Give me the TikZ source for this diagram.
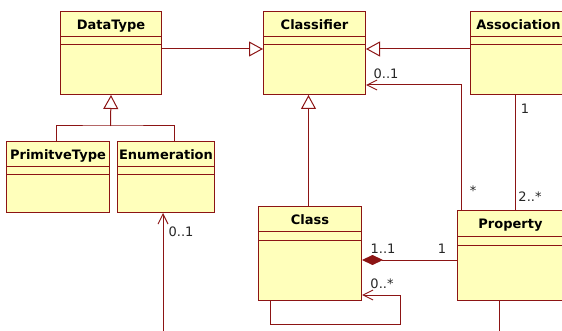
\documentclass[tikz,border=0pt]{standalone}
\usepackage{fontspec}
\setmainfont{DejaVu Sans}
\usetikzlibrary{arrows.meta}
\definecolor{umlfill}{RGB}{255,255,187}
\definecolor{umlline}{RGB}{140,20,20}
\begin{document}
\begin{tikzpicture}[x=1pt,y=-1pt,
    umlbox/.style={draw=umlline, fill=umlfill, line width=1pt, anchor=north west, inner sep=0pt},
    umltitle/.style={font=\fontsize{13}{14}\selectfont\bfseries, anchor=base, inner sep=0pt},
    mult/.style={font=\fontsize{13}{14}\selectfont, text=black!85, inner sep=0pt},
    conn/.style={draw=umlline, line width=1pt},
    gen/.style={conn, -{Triangle[open, length=14pt, width=15pt, fill=white]}},
    nav/.style={conn, -{Straight Barb[length=10pt, width=10pt]}},
    comp/.style={conn, {Diamond[length=21pt, width=10pt, fill=umlline]}-}]

\useasboundingbox (0,0) rectangle (562,331);
\clip (0,0) rectangle (562,331);

% Classi (riquadro, titolo, separatori)
\node[umlbox, minimum width=101pt, minimum height=83pt] (datatype) at (60,11) {};
\node[umltitle] (datatypeT) at ([yshift=-18.5pt]datatype.north) {DataType};
\draw[conn] ([yshift=-26pt]datatype.north west) -- ([yshift=-26pt]datatype.north east);
\draw[conn] ([yshift=-34pt]datatype.north west) -- ([yshift=-34pt]datatype.north east);

\node[umlbox, minimum width=102pt, minimum height=83pt] (classifier) at (263,11) {};
\node[umltitle] (classifierT) at ([yshift=-18.5pt]classifier.north) {Classifier};
\draw[conn] ([yshift=-26pt]classifier.north west) -- ([yshift=-26pt]classifier.north east);
\draw[conn] ([yshift=-34pt]classifier.north west) -- ([yshift=-34pt]classifier.north east);

\node[umlbox, minimum width=96pt, minimum height=83pt] (association) at (470,11) {};
\node[umltitle] (associationT) at ([yshift=-18.5pt]association.north) {Association};
\draw[conn] ([yshift=-26pt]association.north west) -- ([yshift=-26pt]association.north east);
\draw[conn] ([yshift=-34pt]association.north west) -- ([yshift=-34pt]association.north east);

\node[umlbox, minimum width=103pt, minimum height=71pt] (primitive) at (6,141) {};
\node[umltitle] (primitiveT) at ([yshift=-18.5pt]primitive.north) {PrimitveType};
\draw[conn] ([yshift=-26pt]primitive.north west) -- ([yshift=-26pt]primitive.north east);
\draw[conn] ([yshift=-34pt]primitive.north west) -- ([yshift=-34pt]primitive.north east);

\node[umlbox, minimum width=97pt, minimum height=71pt] (enumeration) at (117,141) {};
\node[umltitle] (enumerationT) at ([yshift=-18.5pt]enumeration.north) {Enumeration};
\draw[conn] ([yshift=-26pt]enumeration.north west) -- ([yshift=-26pt]enumeration.north east);
\draw[conn] ([yshift=-34pt]enumeration.north west) -- ([yshift=-34pt]enumeration.north east);

\node[umlbox, minimum width=103pt, minimum height=94pt] (class) at (258,206) {};
\node[umltitle] (classT) at ([yshift=-18.5pt]class.north) {Class};
\draw[conn] ([yshift=-25pt]class.north west) -- ([yshift=-25pt]class.north east);
\draw[conn] ([yshift=-34pt]class.north west) -- ([yshift=-34pt]class.north east);

\node[umlbox, minimum width=106pt, minimum height=90pt] (property) at (457,210) {};
\node[umltitle] (propertyT) at ([yshift=-18.5pt]property.north) {Property};
\draw[conn] ([yshift=-26pt]property.north west) -- ([yshift=-26pt]property.north east);
\draw[conn] ([yshift=-35pt]property.north west) -- ([yshift=-35pt]property.north east);

% Generalizzazioni
\draw[gen] ([yshift=-38pt]datatype.north east) -- ([yshift=-38pt]classifier.north west);
\draw[gen] ([yshift=-38pt]association.north west) -- ([yshift=-38pt]classifier.north east);
\draw[gen] ([xshift=-1.5pt]class.north) -- ([xshift=-1.5pt]class.north |- classifier.south);
\coordinate (dtjoin) at (110.5,126);
\draw[conn] ([xshift=-1.5pt]primitive.north) |- (dtjoin) -| ([xshift=8.5pt]enumeration.north);
\draw[gen] (dtjoin) -- (datatype.south);

% Associazioni
\draw[nav] ([xshift=4pt]property.north west) |- ([yshift=10pt]classifier.south east);
\node[mult] (m01a) at (386,74) {0..1};
\node[mult] (mstar) at (473,191) {*};

\draw[conn] ([xshift=45pt]association.south west) -- ([xshift=45pt]association.south west |- property.north);
\node[mult] (m1a) at (525,109) {1};
\node[mult] (m2s) at (530,197) {2..*};

\draw[comp] ([yshift=-54pt]class.north east) -- ([yshift=-54pt]class.north east -| property.west);
\node[mult] (m11) at (383,249) {1..1};
\node[mult] (m1b) at (442,249) {1};

\coordinate (selfc) at (400,324);
\draw[nav] ([xshift=12pt]class.south west) |- (selfc) |- ([yshift=6pt]class.south east);
\node[mult] (m0s) at (382,284) {0..*};

\coordinate (enumfree) at (163,340);
\draw[nav] (enumfree) -- (enumfree |- enumeration.south);
\node[mult] (m01b) at (181,232) {0..1};

\coordinate (propfree) at (499,340);
\draw[conn] (propfree |- property.south) -- (propfree);

\end{tikzpicture}
\end{document}
